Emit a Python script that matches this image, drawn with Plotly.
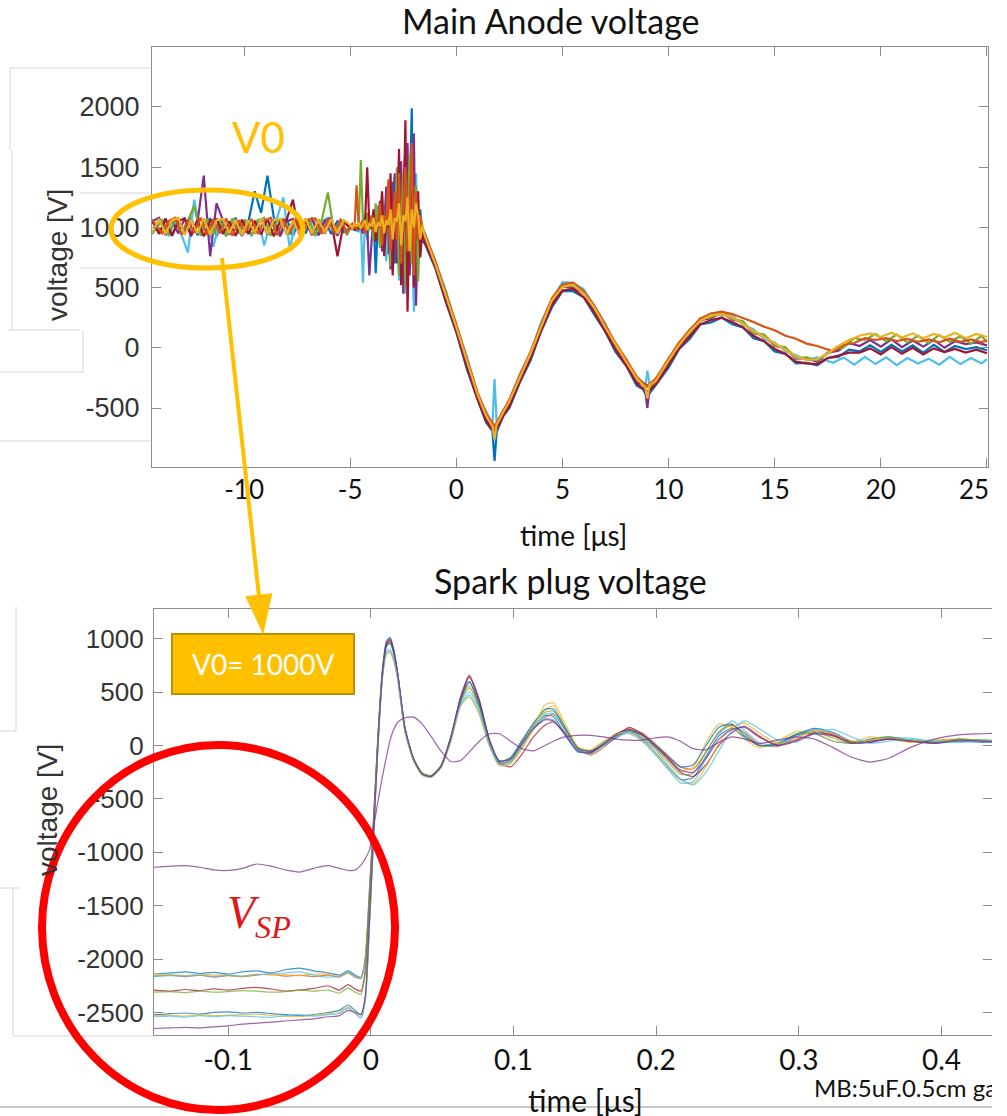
import plotly.graph_objects as go

W, H = 992, 1116   # effective drawing width observed in the renderer

# ---------------- Main anode voltage (top panel) ----------------
t_top = [
    -14.34, -14.0, -13.7, -13.4, -13.1, -12.8, -12.5, -12.2, -11.9, -11.6, -11.3, -11.0, -10.7, -10.4, -10.1,
    -9.8, -9.5, -9.2, -8.9, -8.6, -8.3, -8.0, -7.7, -7.4, -7.1, -6.8, -6.5, -6.2, -5.9, -5.6, -5.3,
    -5.0, -4.9, -4.8, -4.7, -4.6, -4.5, -4.4, -4.3, -4.2, -4.1, -4.0, -3.9, -3.8, -3.7, -3.6, -3.5, -3.4,
    -3.3, -3.2, -3.1, -3.0, -2.9, -2.8, -2.7, -2.6, -2.5, -2.4, -2.3, -2.2, -2.1, -2.0, -1.9, -1.8, -1.7, -1.6,
    -1.5, -1.0, -0.5, 0.0, 0.5, 1.0, 1.4, 1.7, 1.8, 1.9, 2.2, 2.5, 3.0, 3.5, 4.0, 4.5, 5.0, 5.5, 6.0, 6.5,
    7.0, 7.5, 8.0, 8.5, 8.8, 8.9, 9.0, 9.1, 9.4, 10.0, 10.5, 11.0, 11.5, 12.0, 12.5, 13.0, 13.5, 14.0, 14.5,
    15.0, 15.5, 16.0, 16.5, 17.0, 17.5, 18.0, 18.5, 19.0, 19.5, 20.0, 20.5, 21.0, 21.5, 22.0, 22.5, 23.0,
    23.5, 24.0, 24.5, 25.0]

# sample times of the interleaved recordings (half a step later in the quiet parts)
t_top_alt = [
    -14.34, -13.85, -13.55, -13.25, -12.95, -12.65, -12.35, -12.05, -11.75, -11.45, -11.15, -10.85, -10.55, -10.25,
    -9.95, -9.65, -9.35, -9.05, -8.75, -8.45, -8.15, -7.85, -7.55, -7.25, -6.95, -6.65, -6.35, -6.05, -5.75, -5.45,
    -5.15,
    -5.0, -4.9, -4.8, -4.7, -4.6, -4.5, -4.4, -4.3, -4.2, -4.1, -4.0, -3.9, -3.8, -3.7, -3.6, -3.5, -3.4,
    -3.3, -3.2, -3.1, -3.0, -2.9, -2.8, -2.7, -2.6, -2.5, -2.4, -2.3, -2.2, -2.1, -2.0, -1.9, -1.8, -1.7, -1.6,
    -1.5, -1.0, -0.5, 0.0, 0.5, 1.0, 1.4, 1.7, 1.8, 1.9, 2.2, 2.5, 3.0, 3.5, 4.0, 4.5, 5.0, 5.5, 6.0, 6.5,
    7.0, 7.5, 8.0, 8.5, 8.8, 8.9, 9.0, 9.1, 9.4, 10.0, 10.5, 11.0, 11.5, 12.0, 12.5, 13.0, 13.5, 14.0, 14.5,
    15.0, 15.5, 16.0, 16.5, 17.0, 17.75, 18.25, 18.75, 19.25, 19.75, 20.25, 20.75, 21.25, 21.75, 22.25, 22.75,
    23.25, 23.75, 24.25, 24.75, 25.0]

anode_blue = [
    1060, 950, 1075, 930, 1055, 960, 1080, 935, 1050, 1070, 925, 1065, 945, 1080, 930, 1045, 1300, 1120, 1430, 1080,
    940, 1075, 930, 1060, 950, 1080, 935, 1065, 945, 1055, 960,
    1000, 1030, 975, 1010, 1040, 990, 1020, 960, 1015, 1050, 980, 1090, 620, 1030, 1150, 880, 1010, 1250, 780, 1100,
    1380, 700, 1200, 1500, 620, 1300, 1650, 500, 1400, 1990, 400, 1250, 700, 1150, 880,
    870, 665, 380, 125, -180, -430, -620, -690, -940, -700, -570, -500, -285, -105, 140, 335, 470, 470, 420, 275,
    140, -35, -150, -315, -345, -380, -360, -380, -310, -165, -10, 75, 195, 210, 250, 195, 170, 80, 55, -30,
    -50, -130, -125, -145, -85, -75, -15, -30, 20, -35, 25, -30, 20, -40, 25, -35, 15, -10, 5, -20]

anode_cyan = [
    945, 1060, 925, 1055, 940, 790, 1230, 950, 1065, 840, 1050, 930, 1070, 945, 1060, 925, 1070, 850, 1050, 1075,
    1250, 820, 1060, 935, 1065, 925, 1050, 1080, 930, 1060, 945,
    1010, 980, 1025, 990, 960, 1040, 540, 1100, 900, 1020, 1070, 950, 1010, 1180, 860, 1040, 990, 720, 1260, 1000,
    640, 1420, 950, 560, 1350, 1100, 450, 1600, 900, 1200, 300, 1450, 800, 1050, 920,
    965, 720, 480, 185, -75, -385, -530, -635, -260, -620, -525, -430, -215, -40, 215, 400, 545, 540, 485, 340,
    205, 25, -95, -265, -290, -330, -190, -300, -280, -85, 20, 155, 215, 285, 270, 270, 190, 155, 75, 45,
    -30, -60, -105, -80, -125, -80, -140, -75, -135, -80, -145, -85, -130, -90, -140, -75, -135, -85, -130, -95]

anode_purple = [
    1050, 1080, 935, 1060, 950, 1075, 925, 1040, 1430, 760, 1200, 1060, 940, 1070, 930, 1055, 950, 1075, 940, 1060,
    925, 1050, 1070, 945, 1045, 1070, 935, 1055, 1080, 930, 1050,
    990, 1020, 1000, 970, 1030, 1010, 950, 1080, 1000, 600, 880, 1130, 990, 1050, 1220, 800, 1000, 1340, 950, 650,
    1150, 1450, 700, 1000, 1550, 450, 1250, 1700, 600, 1000, 1780, 350, 1100, 1000, 960,
    895, 710, 400, 170, -150, -395, -600, -645, -700, -670, -540, -480, -240, -75, 180, 365, 510, 500, 455, 305,
    180, -5, -110, -285, -305, -355, -500, -345, -270, -135, 30, 105, 230, 245, 295, 235, 215, 120, 105, 15,
    0, -90, -85, -115, -40, -25, 40, 15, 65, 10, 70, 5, 60, 10, 65, 0, 55, 30, 45, 20]

anode_green = [
    950, 1060, 940, 1075, 945, 1055, 1180, 930, 1070, 945, 1060, 925, 1075, 950, 1065, 935, 1055, 1080, 930, 1050,
    1070, 940, 1065, 945, 1075, 935, 1055, 1290, 945, 1060, 935,
    1005, 990, 1020, 980, 1010, 1560, 1040, 960, 1120, 980, 1020, 900, 1200, 1010, 830, 1280, 1000, 950, 1350, 680,
    1100, 1000, 1500, 600, 1050, 1450, 500, 1000, 1600, 700, 1100, 1350, 550, 1100, 940,
    945, 690, 460, 160, -95, -410, -545, -660, -665, -655, -520, -460, -225, -60, 195, 380, 525, 510, 470, 320,
    195, 10, -95, -270, -290, -335, -320, -330, -255, -120, 45, 120, 245, 255, 300, 240, 220, 125, 110, 20,
    5, -85, -80, -105, -20, 5, 80, 65, 115, 55, 110, 45, 100, 40, 105, 50, 95, 35, 100, 45]

anode_red = [
    1055, 945, 1070, 930, 1050, 1075, 940, 1060, 925, 1055, 1070, 945, 1050, 930, 1065, 945, 1055, 940, 1070, 925,
    1050, 1060, 1230, 945, 1055, 935, 1065, 950, 1055, 760, 1045,
    1000, 1020, 980, 1010, 990, 1030, 980, 1050, 1500, 1010, 1000, 1150, 880, 1020, 1000, 1300, 760, 1050, 1000, 1450,
    600, 1100, 1000, 1650, 520, 1000, 1890, 300, 1200, 1500, 500, 1100, 1300, 750, 980,
    885, 675, 395, 140, -160, -425, -605, -680, -710, -675, -570, -485, -275, -85, 145, 355, 475, 490, 420, 295,
    145, -15, -145, -295, -340, -360, -365, -355, -305, -145, -5, 95, 195, 230, 250, 215, 170, 100, 55, -10,
    -50, -115, -130, -135, -85, -65, -40, -40, -5, -55, 5, -50, 0, -55, -5, -35, -10, -40, -15, -45]

anode_orange = [
    1065, 950, 1055, 1080, 940, 1060, 955, 1080, 935, 1065, 950, 1075, 930, 1060, 955, 1070, 945, 1055, 1080, 935,
    1060, 955, 1070, 940, 1060, 1075, 945, 1065, 955, 1070, 955,
    1015, 1030, 990, 1350, 1000, 1025, 1060, 950, 1030, 1000, 1100, 950, 1050, 1000, 1200, 850, 1100, 1020, 1400, 800,
    1050, 1300, 900, 1450, 700, 1100, 1500, 800, 1150, 1700, 600, 1300, 900, 1100, 1000,
    950, 725, 455, 195, -95, -370, -545, -625, -650, -620, -520, -430, -225, -30, 195, 410, 525, 540, 470, 350,
    195, 40, -95, -240, -290, -305, -315, -300, -255, -90, 45, 150, 245, 285, 300, 280, 250, 215, 175, 145,
    100, 75, 35, 15, -30, 25, 40, 80, 65, 80, 55, 75, 50, 70, 45, 75, 50, 70, 45, 65]

anode_yellow = [
    955, 1070, 945, 1060, 1080, 935, 1065, 950, 1075, 940, 1060, 1070, 950, 1065, 935, 1060, 955, 1075, 945, 1060,
    1070, 940, 1060, 950, 1075, 945, 1065, 955, 1070, 950, 1060,
    1020, 995, 1030, 1010, 1040, 990, 1025, 1060, 980, 1030, 1010, 1080, 960, 1040, 1010, 1100, 950, 1060, 1020, 1150,
    900, 1080, 1050, 1200, 850, 1100, 1050, 1250, 800, 1150, 1000, 1200, 1100, 900, 1020,
    935, 700, 440, 170, -110, -390, -565, -650, -760, -640, -540, -445, -245, -45, 175, 395, 505, 525, 450, 335,
    175, 25, -115, -255, -310, -330, -420, -310, -275, -105, 25, 135, 225, 270, 280, 255, 200, 140, 90, 35,
    -15, -70, -100, -95, -45, 15, 65, 100, 120, 90, 125, 85, 120, 80, 115, 85, 125, 80, 115, 90]

top_xticks = [-10, -5, 0, 5, 10, 15, 20, 25]
top_xtext = ["-10", "-5", "0", "5", "10", "15", "20", "25"]
top_yticks = [-500, 0, 500, 1000, 1500, 2000]
top_ytext = ["-500", "0", "500", "1000", "1500", "2000"]

# ---------------- Spark plug voltage (bottom panel) ----------------
t_sp = [
    -0.152, -0.14, -0.13, -0.12, -0.11, -0.10, -0.09, -0.08, -0.07, -0.06, -0.05, -0.04, -0.03, -0.022, -0.016,
    -0.011, -0.007,
    -0.004, -0.001, 0.002, 0.005, 0.008, 0.011, 0.0135, 0.016,
    0.019, 0.024, 0.030, 0.036, 0.042, 0.049, 0.056, 0.063, 0.069, 0.076, 0.083, 0.090, 0.098, 0.106, 0.114,
    0.122, 0.128, 0.136, 0.145, 0.154, 0.163, 0.172, 0.181, 0.190, 0.199, 0.208, 0.217, 0.226, 0.235, 0.244,
    0.253, 0.262, 0.272, 0.285, 0.298, 0.311, 0.324, 0.337, 0.350, 0.363, 0.378, 0.395, 0.412, 0.429, 0.445]

spark_1 = [
    -2140, -2130, -2120, -2135, -2125, -2140, -2120, -2110, -2130, -2100, -2085, -2110, -2130, -2150, -2110, -2150, -2170,
    -2000, -1350, -650, 100, 700, 980, 1010, 900,
    660, 160, -130, -260, -285, -190, 80, 440, 600, 380, 30, -170, -130, 20, 170, 280, 270, 110, -60, -60,
    20, 100, 130, 60, -60, -200, -320, -300, -100, 90, 160, 80, 0, 20, 100, 110, 40, 20, 60, 80, 50, 40, 60, 50, 40]
spark_2 = [
    -2160, -2150, -2165, -2150, -2170, -2155, -2165, -2150, -2140, -2160, -2150, -2165, -2150, -2170, -2130, -2170, -2180,
    -2020, -1400, -700, 80, 680, 960, 990, 880,
    640, 140, -140, -270, -290, -200, 60, 420, 650, 420, 60, -160, -150, 0, 150, 260, 290, 160, -20, -90,
    -20, 80, 150, 120, 20, -90, -200, -220, -60, 120, 190, 120, 10, -10, 80, 140, 90, 30, 50, 70, 40, 20, 50, 40, 30]
spark_3 = [
    -2150, -2145, -2155, -2140, -2150, -2145, -2160, -2140, -2150, -2145, -2155, -2140, -2145, -2160, -2130, -2160, -2175,
    -2010, -1380, -680, 90, 690, 940, 960, 870,
    650, 150, -120, -255, -280, -195, 70, 430, 560, 360, 40, -150, -140, 30, 190, 330, 370, 180, -30, -80,
    10, 100, 160, 90, -10, -130, -240, -200, 30, 200, 170, 60, -20, 40, 130, 120, 40, 30, 80, 60, 30, 50, 60, 40, 50]
spark_4 = [
    -2165, -2155, -2160, -2150, -2165, -2150, -2160, -2145, -2140, -2130, -2120, -2150, -2170, -2160, -2120, -2165, -2185,
    -2030, -1420, -720, 60, 660, 870, 880, 800,
    620, 130, -140, -270, -295, -210, 40, 380, 470, 300, 0, -180, -160, -10, 150, 250, 240, 100, -50, -60,
    30, 90, 110, 40, -80, -220, -350, -340, -120, 100, 230, 140, 30, 0, 90, 150, 110, 40, 30, 60, 70, 30, 40, 50, 45]
spark_5 = [
    -2290, -2300, -2285, -2295, -2280, -2290, -2275, -2265, -2280, -2300, -2290, -2275, -2250, -2290, -2240, -2280, -2300,
    -2120, -1450, -700, 70, 670, 950, 980, 880,
    650, 150, -130, -265, -290, -200, 70, 450, 640, 410, 50, -160, -200, -80, 80, 190, 220, 120, -30, -50,
    10, 90, 170, 110, 0, -120, -250, -290, -180, 0, 120, 180, 90, 0, 40, 120, 100, 30, 40, 60, 40, 30, 50, 40, 35]
spark_6 = [
    -2310, -2305, -2315, -2300, -2310, -2305, -2295, -2300, -2310, -2305, -2290, -2300, -2290, -2320, -2270, -2310, -2330,
    -2140, -1480, -730, 40, 650, 930, 960, 870,
    640, 150, -125, -260, -285, -195, 60, 410, 540, 350, 30, -150, -120, 40, 200, 310, 320, 150, -40, -70,
    20, 100, 140, 80, -20, -150, -270, -260, -60, 130, 200, 110, 0, 20, 110, 130, 70, 20, 50, 80, 50, 30, 60, 50, 40]
spark_7 = [
    -2520, -2510, -2505, -2515, -2500, -2495, -2505, -2500, -2510, -2520, -2530, -2520, -2500, -2480, -2430, -2480, -2520,
    -2380, -1650, -800, 20, 640, 930, 960, 870,
    630, 140, -135, -270, -290, -200, 60, 420, 590, 380, 40, -150, -110, 50, 210, 340, 340, 170, -20, -60,
    0, 70, 140, 100, 10, -100, -200, -180, 0, 170, 200, 90, 0, 10, 100, 160, 120, 40, 30, 70, 50, 20, 40, 30, 40]
spark_8 = [
    -2530, -2525, -2535, -2520, -2530, -2525, -2520, -2515, -2530, -2535, -2540, -2525, -2510, -2500, -2450, -2500, -2540,
    -2400, -1680, -820, 0, 620, 850, 870, 790,
    600, 120, -150, -280, -300, -210, 30, 370, 450, 290, 0, -190, -170, -30, 160, 380, 400, 210, -10, -40,
    40, 110, 120, 50, -60, -200, -320, -360, -200, 20, 170, 210, 120, 20, 60, 140, 110, 40, 50, 70, 50, 40, 50, 45, 50]
spark_9 = [
    -2540, -2535, -2545, -2530, -2540, -2530, -2535, -2540, -2545, -2530, -2520, -2535, -2520, -2510, -2460, -2510, -2555,
    -2410, -1700, -840, -10, 610, 880, 900, 820,
    610, 130, -140, -275, -295, -205, 50, 390, 500, 330, 20, -170, -150, 10, 170, 290, 300, 140, -40, -80,
    0, 80, 130, 70, -30, -180, -310, -370, -250, -50, 140, 230, 160, 50, 30, 110, 150, 80, 20, 40, 60, 40, 30, 40, 45]
spark_10 = [
    -2650, -2645, -2640, -2645, -2635, -2625, -2610, -2600, -2590, -2580, -2570, -2560, -2540, -2530, -2480, -2500, -2520,
    -2350, -1650, -820, 10, 640, 960, 1000, 900,
    660, 160, -125, -265, -290, -200, 70, 460, 660, 430, 60, -140, -130, 20, 160, 240, 230, 100, -50, -70,
    10, 110, 150, 100, 0, -110, -230, -250, -120, 60, 150, 170, 80, 0, 50, 110, 90, 20, 30, 60, 40, 20, 50, 40, 30]
spark_11 = [
    -1140, -1130, -1125, -1140, -1165, -1170, -1150, -1110, -1130, -1165, -1185, -1150, -1125, -1150, -1170, -1165, -1120,
    -1060, -980, -760, -520, -300, -100, 50, 150,
    220, 260, 265, 200, 90, -50, -150, -140, -60, 40, 110, 110, 40, -30, -50, 0, 40, 80, 95, 95,
    80, 60, 50, 50, 70, 80, 40, -30, -40, 30, 80, 60, 20, 50, 80, 60, -20, -110, -155, -120, -20, 60, 100, 110, 120]

sp_xticks = [-0.1, 0, 0.1, 0.2, 0.3, 0.4]
sp_xtext = ["-0.1", "0", "0.1", "0.2", "0.3", "0.4"]
sp_yticks = [-2500, -2000, -1500, -1000, -500, 0, 500, 1000]
sp_ytext = ["-2500", "-2000", "-1500", "-1000", "-500", "0", "500", "1000"]


def px(x):
    return x / W


def py(y):
    return 1 - y / H


fig = go.Figure()

top_series = [(anode_blue, "#0072BD", t_top), (anode_cyan, "#4DBEEE", t_top_alt),
              (anode_purple, "#7E2F8E", t_top), (anode_green, "#77AC30", t_top_alt),
              (anode_red, "#A2142F", t_top), (anode_orange, "#D95319", t_top_alt),
              (anode_yellow, "#EDB120", t_top)]
for ys, c, tt in top_series:
    fig.add_trace(go.Scatter(x=tt, y=ys, mode="lines", line=dict(color=c, width=2.2),
                             xaxis="x", yaxis="y", hoverinfo="skip", showlegend=False))

sp_series = [(spark_1, "#0072BD"), (spark_2, "#D95319"), (spark_3, "#EDB120"), (spark_4, "#4DBEEE"),
             (spark_5, "#A2142F"), (spark_6, "#77AC30"), (spark_7, "#0072BD"), (spark_8, "#EDB120"),
             (spark_9, "#4DBEEE"), (spark_10, "#7E2F8E"), (spark_11, "#7E2F8E")]
for ys, c in sp_series:
    fig.add_trace(go.Scatter(x=t_sp, y=ys, mode="lines", opacity=0.75,
                             line=dict(color=c, width=1.2, shape="spline", smoothing=0.6),
                             xaxis="x2", yaxis="y2", hoverinfo="skip", showlegend=False))

axis_common = dict(showgrid=False, zeroline=False, showline=True, linecolor="#8c8c8c", linewidth=1.2,
                   mirror="ticks", ticks="inside", ticklen=9, tickcolor="#8c8c8c", tickwidth=1.2)

fig.update_layout(
    width=W, height=H, autosize=False, margin=dict(l=0, r=0, t=0, b=0, pad=0),
    paper_bgcolor="white", plot_bgcolor="white", showlegend=False,
    xaxis=dict(domain=[px(152), px(988)], range=[-14.34, 25.05], anchor="y",
               tickvals=top_xticks, ticktext=top_xtext, ticklabelstandoff=0,
               tickfont=dict(family="Lato", size=26, color="#111111"), **axis_common),
    yaxis=dict(domain=[py(467), py(47)], range=[-990, 2498], anchor="x",
               tickvals=top_yticks, ticktext=top_ytext, ticklabelstandoff=6,
               tickfont=dict(family="Liberation Sans", size=27, color="#333333"), **axis_common),
    xaxis2=dict(domain=[px(154), 1.0], range=[-0.152, 0.4354], anchor="y2",
                tickvals=sp_xticks, ticktext=sp_xtext, ticklabelstandoff=0,
                tickfont=dict(family="Lato", size=28, color="#111111"), **axis_common),
    yaxis2=dict(domain=[py(1035), py(609)], range=[-2711, 1278], anchor="x2",
                tickvals=sp_yticks, ticktext=sp_ytext, ticklabelstandoff=4,
                tickfont=dict(family="Liberation Sans", size=26, color="#333333"), **axis_common),
)

annotations = []


def ann(text, x, y, size, family="Lato", color="#111111", xanchor="center", yanchor="middle", angle=0):
    annotations.append(dict(text=text, x=px(x), y=py(y), xref="paper", yref="paper", showarrow=False,
                            xanchor=xanchor, yanchor=yanchor, textangle=angle,
                            font=dict(family=family, size=size, color=color)))


ann("Main Anode voltage", 551, 21, 34)
ann("time [μs]", 573, 535, 28)
ann("voltage [V]", 57, 255, 28, family="Liberation Sans", color="#333333", angle=-90)
ann("Spark plug voltage", 570, 580, 34)
ann("time [μs]", 585, 1080, 30, yanchor="top")
ann("voltage [V]", 47, 810, 28, family="Liberation Sans", color="#333333", angle=-90)
ann("V0", 258, 137, 42, color="#FFC000")
ann("MB:5uF.0.5cm gap", 812, 1087, 24, xanchor="left")
# last top tick label sits at the right border; drawn inside the page so it stays visible
ann("25", 991, 489, 26, xanchor="right")

shapes = []


def gline(x0, y0, x1, y1, color="#d4d4d4", width=1):
    shapes.append(dict(type="line", xref="paper", yref="paper", x0=px(x0), y0=py(y0), x1=px(x1), y1=py(y1),
                       line=dict(color=color, width=width)))


# faint outlines of pasted text boxes
gline(10, 68, 150, 68)
gline(10, 68, 10, 150)
gline(12, 150, 12, 330)
gline(8, 330, 80, 330)
gline(80, 193, 150, 193)
gline(80, 268, 150, 268)
gline(83, 330, 83, 372)
gline(0, 372, 83, 372)
gline(0, 441, 150, 441)
gline(16, 607, 16, 731)
gline(0, 731, 16, 731)
gline(0, 888, 20, 888)
gline(13, 888, 13, 1035)
gline(13, 1036, 155, 1036)
gline(0, 1107, W, 1107, color="#c8c8c8", width=2)

# orange ellipse around V0
shapes.append(dict(type="circle", xref="paper", yref="paper", x0=px(111), x1=px(303), y0=py(268), y1=py(190),
                   line=dict(color="#FFC000", width=5)))
# arrow
ax0, ay0, tipx, tipy = 222, 258, 263, 633
dx, dy = tipx - ax0, tipy - ay0
L = (dx * dx + dy * dy) ** 0.5
ux, uy = dx / L, dy / L
hl, hw = 38, 13
bx, by = tipx - ux * hl, tipy - uy * hl
gline(ax0, ay0, bx + ux * 2, by + uy * 2, color="#FFC000", width=4)
p1 = (bx + uy * hw, by - ux * hw)
p2 = (bx - uy * hw, by + ux * hw)
shapes.append(dict(type="path", xref="paper", yref="paper",
                   path=f"M {px(tipx)} {py(tipy)} L {px(p1[0])} {py(p1[1])} L {px(p2[0])} {py(p2[1])} Z",
                   fillcolor="#FFC000", line=dict(color="#FFC000", width=1)))
# V0 box
shapes.append(dict(type="rect", xref="paper", yref="paper", x0=px(172), x1=px(354), y0=py(694), y1=py(634),
                   fillcolor="#FFC000", line=dict(color="#BF9000", width=2)))
ann("V0= 1000V", 263, 664, 28, color="white")
# red ellipse
shapes.append(dict(type="circle", xref="paper", yref="paper", x0=px(42), x1=px(395), y0=py(1110), y1=py(745),
                   line=dict(color="#FF0000", width=8)))
ann("<i>V</i><sub><i>SP</i></sub>", 259, 916, 46, family="Liberation Serif", color="#E0161B")

fig.update_layout(shapes=shapes, annotations=annotations)
fig.write_html("out.html")
